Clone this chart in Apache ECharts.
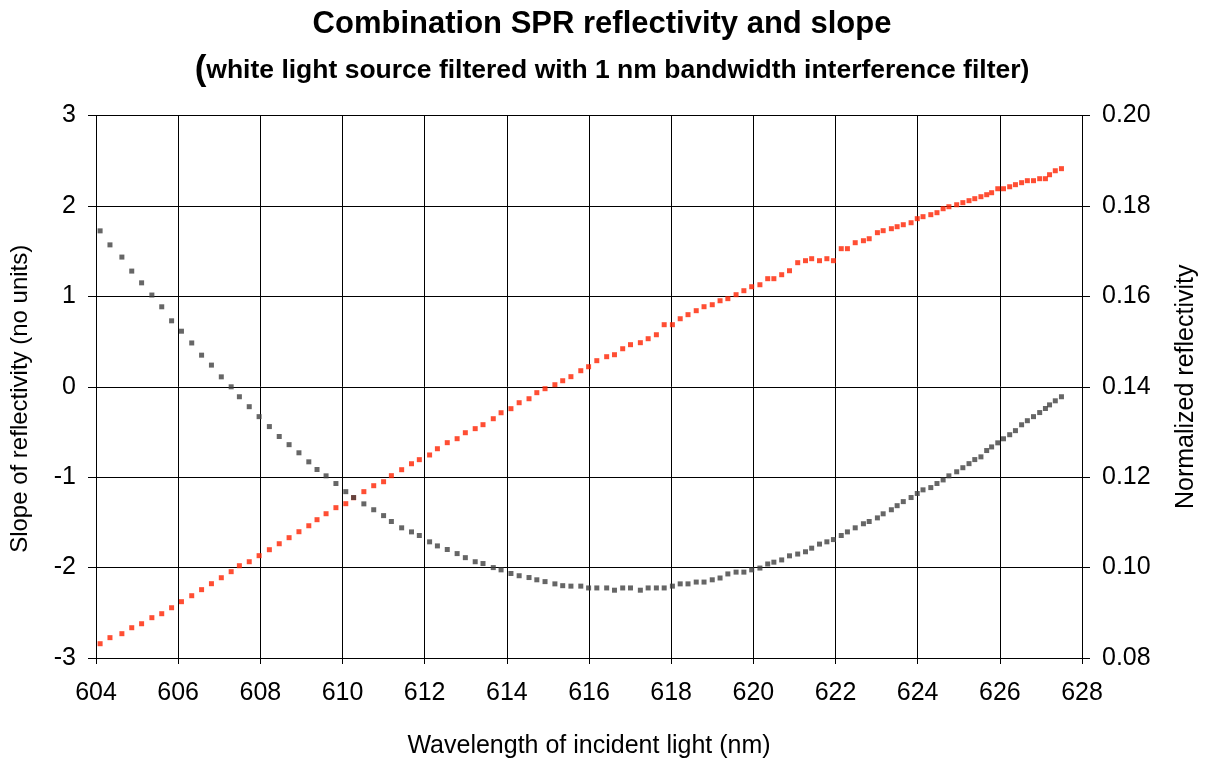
<!DOCTYPE html>
<html>
<head>
<meta charset="utf-8">
<script src="https://cdn.jsdelivr.net/npm/echarts@6/dist/echarts.min.js"></script>
<style>html,body{margin:0;padding:0;background:#fff;}#c{width:1207px;height:765px;}</style>
</head>
<body>
<div id="c"></div>
<script>
const wavelength = [604.10,604.34,604.63,604.87,605.11,605.36,605.60,605.84,606.08,606.33,606.57,606.81,607.05,607.29,607.49,607.73,607.97,608.22,608.46,608.70,608.94,609.18,609.38,609.60,609.84,610.08,610.27,610.52,610.76,611.00,611.19,611.44,611.68,611.87,612.12,612.31,612.55,612.79,612.99,613.23,613.42,613.67,613.86,614.10,614.30,614.54,614.73,614.93,615.17,615.36,615.56,615.80,615.99,616.19,616.43,616.62,616.82,617.01,617.25,617.44,617.64,617.83,618.03,618.22,618.41,618.61,618.80,619.00,619.19,619.38,619.58,619.77,619.96,620.16,620.35,620.50,620.69,620.88,621.08,621.27,621.42,621.61,621.79,621.95,622.14,622.29,622.48,622.68,622.82,623.02,623.16,623.36,623.50,623.65,623.84,623.99,624.13,624.32,624.47,624.62,624.76,624.95,625.10,625.25,625.39,625.54,625.68,625.80,625.95,626.09,626.24,626.38,626.53,626.67,626.82,626.97,627.11,627.21,627.35,627.50];
const slope = [-2.842,-2.775,-2.731,-2.665,-2.621,-2.554,-2.510,-2.444,-2.377,-2.311,-2.244,-2.178,-2.112,-2.045,-1.979,-1.935,-1.868,-1.802,-1.736,-1.669,-1.603,-1.537,-1.470,-1.404,-1.337,-1.293,-1.227,-1.160,-1.094,-1.050,-0.983,-0.917,-0.851,-0.806,-0.754,-0.685,-0.618,-0.574,-0.508,-0.463,-0.419,-0.353,-0.287,-0.242,-0.176,-0.132,-0.065,-0.021,0.023,0.067,0.112,0.178,0.222,0.289,0.333,0.355,0.421,0.466,0.488,0.532,0.576,0.687,0.687,0.753,0.798,0.842,0.886,0.908,0.952,0.975,1.019,1.063,1.107,1.129,1.196,1.196,1.240,1.284,1.373,1.395,1.417,1.395,1.417,1.395,1.528,1.528,1.594,1.616,1.638,1.705,1.727,1.749,1.771,1.793,1.815,1.860,1.882,1.904,1.926,1.970,1.992,2.014,2.037,2.059,2.081,2.103,2.125,2.147,2.191,2.191,2.213,2.236,2.258,2.280,2.280,2.302,2.302,2.346,2.390,2.413];
const reflectivity = [0.1745,0.1714,0.1687,0.1656,0.1630,0.1603,0.1577,0.1546,0.1523,0.1497,0.1470,0.1448,0.1422,0.1400,0.1378,0.1356,0.1334,0.1312,0.1290,0.1272,0.1254,0.1234,0.1217,0.1203,0.1186,0.1168,0.1155,0.1141,0.1128,0.1115,0.1102,0.1088,0.1079,0.1071,0.1057,0.1048,0.1040,0.1031,0.1022,0.1013,0.1009,0.1000,0.0995,0.0987,0.0982,0.0978,0.0973,0.0969,0.0964,0.0960,0.0959,0.0959,0.0955,0.0955,0.0955,0.0950,0.0955,0.0955,0.0950,0.0955,0.0955,0.0955,0.0959,0.0964,0.0964,0.0968,0.0968,0.0973,0.0977,0.0986,0.0990,0.0990,0.0995,0.0999,0.1008,0.1012,0.1017,0.1026,0.1030,0.1035,0.1043,0.1052,0.1057,0.1062,0.1071,0.1079,0.1088,0.1097,0.1102,0.1110,0.1119,0.1128,0.1137,0.1146,0.1155,0.1164,0.1172,0.1177,0.1186,0.1194,0.1203,0.1212,0.1221,0.1230,0.1239,0.1245,0.1259,0.1267,0.1276,0.1285,0.1294,0.1303,0.1316,0.1325,0.1334,0.1343,0.1352,0.1360,0.1369,0.1378];

const titleText = 'Combination SPR reflectivity and slope';
const subtitleText = 'white light source filtered with 1 nm bandwidth interference filter)';
const xName = 'Wavelength of incident light (nm)';
const yLeftName = 'Slope of reflectivity (no units)';
const yRightName = 'Normalized reflectivity';

const FONT = '"Liberation Sans", Arial, sans-serif';
const chart = echarts.init(document.getElementById('c'), null, {renderer: 'canvas'});
const slopePts = wavelength.map((w, i) => [w, slope[i]]);
const reflPts = wavelength.map((w, i) => [w, reflectivity[i]]);

chart.setOption({
  animation: false,
  backgroundColor: '#ffffff',
  title: [{
    text: titleText,
    left: 597, top: 4, textAlign: 'center',
    textStyle: {fontFamily: FONT, fontSize: 31, fontWeight: 'bold', color: '#000'}
  }, {
    text: '{p|(}' + subtitleText,
    left: 607, top: 48, textAlign: 'center',
    textStyle: {fontFamily: FONT, fontSize: 26.5, fontWeight: 'bold', color: '#000',
      rich: {p: {fontFamily: FONT, fontSize: 35, fontWeight: 'bold', color: '#000'}}}
  }],
  grid: {left: 96, right: 121, top: 115.6, bottom: 107, containLabel: false},
  xAxis: {
    type: 'value', min: 604, max: 628, interval: 2,
    name: xName, nameLocation: 'middle', nameGap: 76,
    nameTextStyle: {fontFamily: FONT, fontSize: 25, color: '#000'},
    axisLine: {show: true, onZero: false, lineStyle: {color: '#000', width: 1}},
    axisTick: {show: true, inside: false, length: 6, lineStyle: {color: '#000'}},
    axisLabel: {fontFamily: FONT, fontSize: 25, color: '#000', margin: 23},
    splitLine: {show: true, lineStyle: {color: '#000', width: 1}}
  },
  yAxis: [{
    type: 'value', min: -3, max: 3, interval: 1, position: 'left',
    name: yLeftName, nameLocation: 'middle', nameGap: 64, nameRotate: 90,
    nameTextStyle: {fontFamily: FONT, fontSize: 24, color: '#000', padding: [0, 24, 0, 0]},
    axisLine: {show: true, onZero: false, lineStyle: {color: '#000', width: 1}},
    axisTick: {show: true, length: 8, lineStyle: {color: '#000'}},
    axisLabel: {fontFamily: FONT, fontSize: 25, color: '#000', margin: 20},
    splitLine: {show: true, lineStyle: {color: '#000', width: 1}}
  }, {
    type: 'value', min: 0.08, max: 0.20, interval: 0.02, position: 'right',
    name: yRightName, nameLocation: 'middle', nameGap: 92, nameRotate: 90,
    nameTextStyle: {fontFamily: FONT, fontSize: 25, color: '#000'},
    axisLine: {show: true, onZero: false, lineStyle: {color: '#000', width: 1}},
    axisTick: {show: true, length: 8, lineStyle: {color: '#000'}},
    axisLabel: {fontFamily: FONT, fontSize: 25, color: '#000', margin: 20,
      formatter: v => v.toFixed(2)},
    splitLine: {show: false}
  }],
  series: [{
    name: 'Slope', type: 'scatter', yAxisIndex: 0, data: slopePts,
    symbol: 'rect', symbolSize: 5,
    itemStyle: {color: '#ff2200'}
  }, {
    name: 'Reflectivity', type: 'scatter', yAxisIndex: 1, data: reflPts,
    symbol: 'rect', symbolSize: 5,
    itemStyle: {color: '#404040'}
  }]
});
</script>
</body>
</html>
